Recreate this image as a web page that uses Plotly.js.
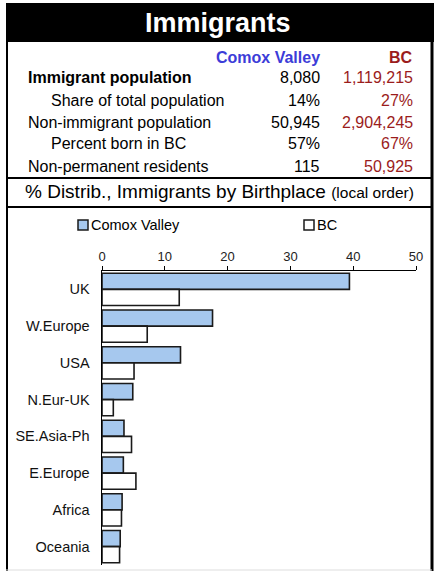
<!DOCTYPE html>
<html>
<head>
<meta charset="utf-8">
<script src="https://cdn.plot.ly/plotly-3.0.1.min.js"></script>
<style>
html,body{margin:0;padding:0;background:#fff;}
#chart{width:434px;height:571px;}
</style>
</head>
<body>
<div id="chart"></div>
<script>
// ---- data ----
const chartTitle = 'Immigrants';
const seriesNames = ['Comox Valley', 'BC'];
const rowLabels = ['Immigrant population', 'Share of total population', 'Non-immigrant population', 'Percent born in BC', 'Non-permanent residents'];
const rowIndent = [false, true, false, true, false];
const rowBold = [true, false, false, false, false];
const comoxTable = ['8,080', '14%', '50,945', '57%', '115'];
const bcTable = ['1,119,215', '27%', '2,904,245', '67%', '50,925'];
const categories = ['UK', 'W.Europe', 'USA', 'N.Eur-UK', 'SE.Asia-Ph', 'E.Europe', 'Africa', 'Oceania'];
const comoxValues = [39.4, 17.6, 12.5, 4.9, 3.5, 3.4, 3.2, 2.9];
const bcValues = [12.3, 7.2, 5.1, 1.8, 4.7, 5.4, 3.1, 2.8];
const xTickVals = [0, 10, 20, 30, 40, 50];

// ---- layout helpers ----
const W = 434, H = 571;
const px = x => x / W;
const py = y => 1 - y / H;
const FONT = 'Liberation Sans, Arial, sans-serif';
const BLUE = '#3c3cd8';
const RED = '#9b1c1c';
const FILL = '#a6c8ee';

const traces = [
  {type: 'bar', orientation: 'h', name: seriesNames[0], y: categories, x: comoxValues,
   marker: {color: FILL, line: {color: '#1a1a1a', width: 1.6}}, hoverinfo: 'x+y'},
  {type: 'bar', orientation: 'h', name: seriesNames[1], y: categories, x: bcValues,
   marker: {color: '#ffffff', line: {color: '#1a1a1a', width: 1.6}}, hoverinfo: 'x+y'}
];

const shapes = [
  {type: 'rect', xref: 'paper', yref: 'paper', x0: px(6), x1: px(434), y0: py(3), y1: py(42), fillcolor: '#000', line: {width: 0}, layer: 'below'},
  {type: 'line', xref: 'paper', yref: 'paper', x0: px(7), x1: px(7), y0: py(42), y1: py(571), line: {color: '#000', width: 2}},
  {type: 'line', xref: 'paper', yref: 'paper', x0: px(432), x1: px(432), y0: py(3), y1: py(571), line: {color: '#000', width: 3}},
  {type: 'line', xref: 'paper', yref: 'paper', x0: px(6), x1: px(432), y0: py(178), y1: py(178), line: {color: '#000', width: 2}},
  {type: 'line', xref: 'paper', yref: 'paper', x0: px(6), x1: px(432), y0: py(207), y1: py(207), line: {color: '#000', width: 2}},
  {type: 'line', xref: 'paper', yref: 'paper', x0: px(6), x1: px(432), y0: py(570), y1: py(570), line: {color: '#dddddd', width: 1}},
  // legend swatches
  {type: 'rect', xref: 'paper', yref: 'paper', x0: px(78), x1: px(88), y0: py(220), y1: py(230), fillcolor: FILL, line: {color: '#1a1a1a', width: 1.5}},
  {type: 'rect', xref: 'paper', yref: 'paper', x0: px(304), x1: px(314), y0: py(220), y1: py(230), fillcolor: '#fff', line: {color: '#1a1a1a', width: 1.5}}
];

const annotations = [];
function ann(text, x, y, opts) {
  annotations.push(Object.assign({xref: 'paper', yref: 'paper', x: px(x), y: py(y), text: text,
    showarrow: false, xanchor: 'left', yanchor: 'middle',
    font: {family: FONT, size: 16, color: '#000'}}, opts || {}));
}
ann('<b>' + chartTitle + '</b>', 218, 23, {xanchor: 'center', font: {family: FONT, size: 27, color: '#fff'}});
ann('<b>' + seriesNames[0] + '</b>', 322, 57, {xanchor: 'right', font: {family: FONT, size: 16, color: BLUE}});
ann('<b>' + seriesNames[1] + '</b>', 415, 57, {xanchor: 'right', font: {family: FONT, size: 16, color: RED}});
const rowY = [77, 100, 122, 143, 167];
rowLabels.forEach((lab, i) => {
  ann(rowBold[i] ? '<b>' + lab + '</b>' : lab, rowIndent[i] ? 49 : 26, rowY[i]);
  ann(comoxTable[i], 322, rowY[i], {xanchor: 'right'});
  ann(bcTable[i], 415, rowY[i], {xanchor: 'right', font: {family: FONT, size: 16, color: RED}});
});
ann('% Distrib., Immigrants by Birthplace <span style="font-size:15.5px">(local order)</span>', 219, 191,
    {xanchor: 'center', font: {family: FONT, size: 19, color: '#000'}});
ann(seriesNames[0], 89, 225, {font: {family: FONT, size: 14.5, color: '#000'}});
ann(seriesNames[1], 315, 225, {font: {family: FONT, size: 14.5, color: '#000'}});

const layout = {
  width: W, height: H,
  margin: {l: 0, r: 0, t: 0, b: 0},
  paper_bgcolor: '#fff', plot_bgcolor: '#fff',
  showlegend: false,
  barmode: 'group', bargap: 0.12, bargroupgap: 0,
  xaxis: {
    domain: [px(102), px(416)], side: 'top', range: [0, 50],
    tickvals: xTickVals, ticks: 'outside', ticklen: 4, tickcolor: '#000', tickwidth: 1,
    showline: true, linecolor: '#000', linewidth: 1, showgrid: false, zeroline: false,
    tickfont: {family: FONT, size: 13, color: '#222'}, fixedrange: true, automargin: false
  },
  yaxis: {
    domain: [py(565), py(271)], type: 'category', categoryorder: 'array', categoryarray: categories,
    autorange: 'reversed', showline: true, linecolor: '#000', linewidth: 1.5, showgrid: false,
    ticks: '', tickfont: {family: FONT, size: 14.5, color: '#111'}, ticklabelstandoff: 8,
    fixedrange: true, automargin: false
  },
  shapes: shapes,
  annotations: annotations
};

Plotly.newPlot('chart', traces, layout, {displayModeBar: false, staticPlot: true});
</script>
</body>
</html>
